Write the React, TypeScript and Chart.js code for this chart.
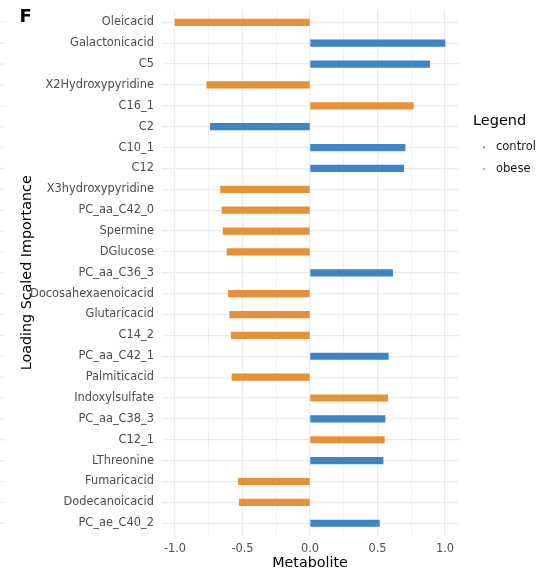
import React, { useEffect, useRef } from "react";
import { Chart, registerables } from "chart.js";

Chart.register(...registerables);

const metabolites: string[] = [
  "Oleicacid", "Galactonicacid", "C5", "X2Hydroxypyridine", "C16_1", "C2", "C10_1", "C12",
  "X3hydroxypyridine", "PC_aa_C42_0", "Spermine", "DGlucose", "PC_aa_C36_3",
  "Docosahexaenoicacid", "Glutaricacid", "C14_2", "PC_aa_C42_1", "Palmiticacid",
  "Indoxylsulfate", "PC_aa_C38_3", "C12_1", "LThreonine", "Fumaricacid",
  "Dodecanoicacid", "PC_ae_C40_2",
];

const importance: number[] = [
  -1.0, 1.0, 0.886, -0.765, 0.765, -0.738, 0.704, 0.694,
  -0.662, -0.652, -0.644, -0.615, 0.612,
  -0.605, -0.595, -0.583, 0.58, -0.578,
  0.575, 0.556, 0.551, 0.541, -0.531,
  -0.524, 0.514,
];

const groups: string[] = [
  "obese", "control", "control", "obese", "obese", "control", "control", "control",
  "obese", "obese", "obese", "obese", "control",
  "obese", "obese", "obese", "control", "obese",
  "obese", "control", "obese", "control", "obese",
  "obese", "control",
];

const legendLabels: string[] = ["control", "obese"];
const xTicks: number[] = [-1, -0.75, -0.5, -0.25, 0, 0.25, 0.5, 0.75, 1];

const COLORS: Record<string, string> = { control: "#3d85c6", obese: "#e69138" };
const FONT = "'DejaVu Sans', sans-serif";
const GRID = "#ebebeb";

const overlay = {
  id: "overlay",
  afterDraw(chart: any) {
    const { ctx, chartArea, scales } = chart;
    ctx.save();
    // tag
    ctx.fillStyle = "#000";
    ctx.font = `bold 18px ${FONT}`;
    ctx.textAlign = "left";
    ctx.textBaseline = "middle";
    ctx.fillText("F", 19.5, 17.5);
    // left edge marks (neighbouring panel)
    ctx.strokeStyle = GRID;
    ctx.lineWidth = 1.2;
    metabolites.forEach((_, i) => {
      const y = scales.y.getPixelForValue(i);
      ctx.beginPath();
      ctx.moveTo(0, y);
      ctx.lineTo(5, y);
      ctx.stroke();
    });
    // axis titles
    ctx.fillStyle = "#000";
    ctx.font = `14.3px ${FONT}`;
    ctx.textAlign = "center";
    ctx.textBaseline = "middle";
    ctx.fillText("Metabolite", (chartArea.left + chartArea.right) / 2, 563);
    ctx.save();
    ctx.translate(27, (chartArea.top + chartArea.bottom) / 2);
    ctx.rotate(-Math.PI / 2);
    ctx.fillText("Loading Scaled Importance", 0, 0);
    ctx.restore();
    // legend
    ctx.textAlign = "left";
    ctx.font = `14.5px ${FONT}`;
    ctx.fillText("Legend", 473, 121);
    ctx.font = `11.5px ${FONT}`;
    legendLabels.forEach((lab, i) => {
      const y = 147.5 + i * 21.5;
      ctx.fillStyle = COLORS[lab];
      ctx.beginPath();
      ctx.arc(484, y, 1.1, 0, Math.PI * 2);
      ctx.fill();
      ctx.fillStyle = "#1a1a1a";
      ctx.fillText(lab, 496, y);
    });
    ctx.restore();
  },
};

function zeroPadding(s: any) {
  s.paddingTop = 0;
  s.paddingBottom = 0;
  s.paddingLeft = 0;
  s.paddingRight = 0;
}

export default function App() {
  const ref = useRef<HTMLCanvasElement | null>(null);

  useEffect(() => {
    if (!ref.current) return;
    const datasets = legendLabels.map((g) => ({
      label: g,
      data: importance
        .map((v, i) => ({ x: v, y: i, g: groups[i] }))
        .filter((p) => p.g === g)
        .map((p) => ({ x: p.x, y: p.y })),
      backgroundColor: COLORS[g],
      borderWidth: 0,
      barThickness: 6.5,
      grouped: false,
    }));

    const chart = new Chart(ref.current, {
      type: "bar",
      data: { datasets: datasets as any },
      plugins: [overlay],
      options: {
        animation: false,
        responsive: false,
        indexAxis: "y",
        devicePixelRatio: 1,
        layout: { autoPadding: false, padding: { left: 0, top: 9.8, right: 83.5, bottom: 0 } },
        plugins: { legend: { display: false }, tooltip: { enabled: false } },
        scales: {
          x: {
            type: "linear",
            offset: false,
            min: -1.1,
            max: 1.1,
            afterBuildTicks: (s: any) => {
              s.ticks = xTicks.map((v) => ({ value: v }));
            },
            afterFit: (s: any) => {
              s.height = 35.2;
              zeroPadding(s);
            },
            border: { display: false },
            grid: {
              offset: false,
              drawTicks: false,
              color: GRID,
              lineWidth: (c: any) =>
                c.tick && Math.abs((c.tick.value * 2) % 1) < 1e-6 ? 1.2 : 0.7,
            },
            ticks: {
              padding: 6.5,
              color: "#4d4d4d",
              font: { family: FONT, size: 11.4 },
              callback: (v: any) =>
                Math.abs((Number(v) * 2) % 1) < 1e-6 ? Number(v).toFixed(1) : "",
            },
          },
          y: {
            type: "linear",
            offset: false,
            reverse: true,
            min: -0.6,
            max: metabolites.length - 1 + 0.6,
            afterBuildTicks: (s: any) => {
              s.ticks = metabolites.map((_, i) => ({ value: i }));
            },
            afterFit: (s: any) => {
              s.width = 161.5;
              zeroPadding(s);
            },
            border: { display: false },
            grid: { offset: false, drawTicks: false, color: GRID, lineWidth: 1.2 },
            ticks: {
              padding: 7.5,
              color: "#4d4d4d",
              font: { family: FONT, size: 11.4 },
              autoSkip: false,
              callback: (v: any) => metabolites[Number(v)] ?? "",
            },
          },
        },
      },
    });
    return () => chart.destroy();
  }, []);

  return (
    <div style={{ position: "absolute", left: 0, top: 0, width: 542, height: 571, background: "#fff" }}>
      <canvas ref={ref} width={542} height={571} style={{ display: "block" }} />
    </div>
  );
}
